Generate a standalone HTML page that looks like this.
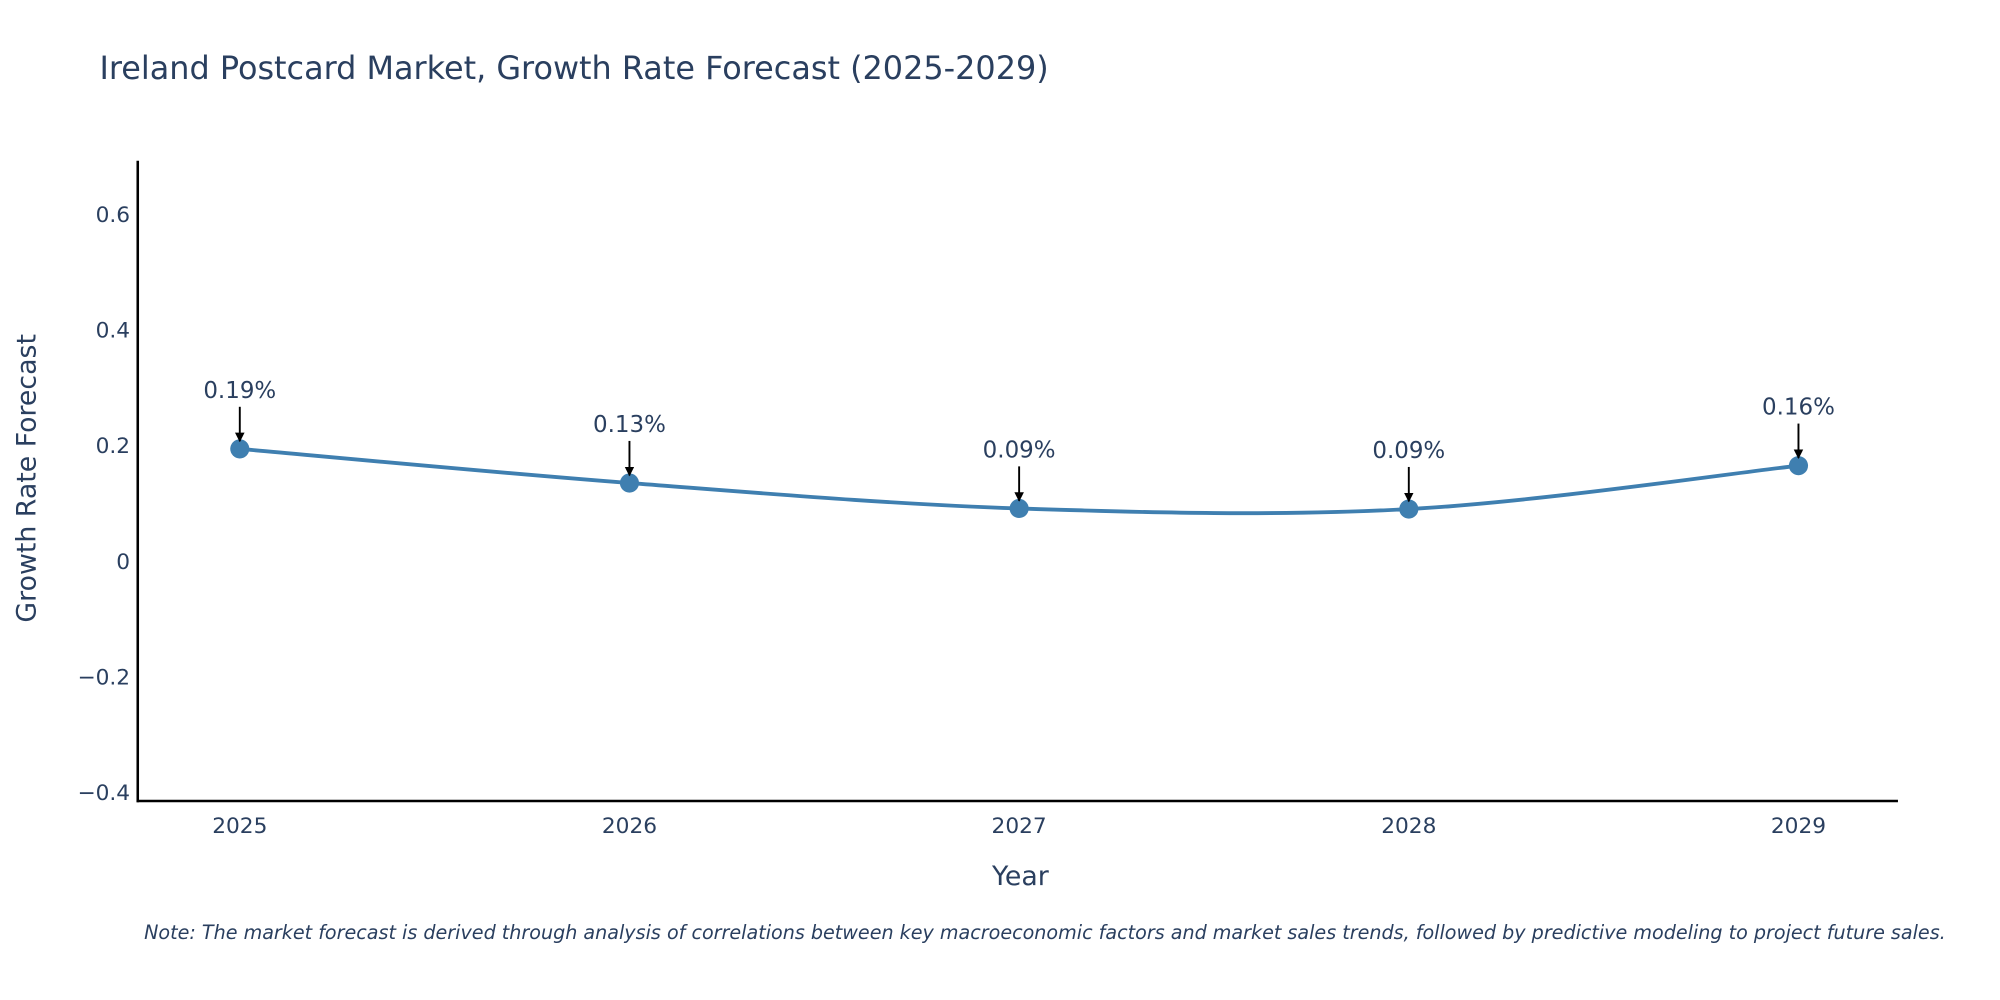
<!DOCTYPE html>
<html><head><meta charset="utf-8"><style>
html,body{margin:0;padding:0;background:#fff;width:2000px;height:1000px;overflow:hidden}
svg text{font-family:"DejaVu Sans","Liberation Sans",sans-serif;fill:#2a3f5f}
</style></head><body>
<svg id="chart" width="2000" height="1000" viewBox="0 0 1568 784" xmlns="http://www.w3.org/2000/svg">
<defs><marker id="ah" viewBox="0 0 10 10" refX="9" refY="5" markerWidth="5" markerHeight="5" orient="auto"><path d="M0,0 L10,5 L0,10 z" fill="#000"/></marker></defs>
<text x="78" y="62" font-size="25">Ireland Postcard Market, Growth Rate Forecast (2025-2029)</text>
<g id="yticks"></g><g id="xticks"></g>
<line x1="108" y1="126" x2="108" y2="629" stroke="#000" stroke-width="2"/>
<line x1="107" y1="628" x2="1488" y2="628" stroke="#000" stroke-width="2"/>
<g id="series"></g>
<text x="800" y="694" font-size="21" text-anchor="middle">Year</text>
<text transform="translate(28,375) rotate(-90)" font-size="21" text-anchor="middle">Growth Rate Forecast</text>
<text x="113" y="736" font-size="15" font-style="italic">Note: The market forecast is derived through analysis of correlations between key macroeconomic factors and market sales trends, followed by predictive modeling to project future sales.</text>
</svg>
<script>
const years=[2025,2026,2027,2028,2029];
const values=[0.192,0.133,0.089,0.088,0.163];
const labels=["0.19%","0.13%","0.09%","0.09%","0.16%"];
const yTicks=[-0.4,-0.2,0,0.2,0.4,0.6];
const yTickLabels=["\u22120.4","\u22120.2","0","0.2","0.4","0.6"];
const NS="http://www.w3.org/2000/svg";
const xS=v=>188+(v-2025)*305.5;
const yS=v=>439-v*453.5;
function mk(tag,attrs,parent){const e=document.createElementNS(NS,tag);for(const k in attrs)e.setAttribute(k,attrs[k]);parent.appendChild(e);return e;}
const yt=document.getElementById('yticks');
yTicks.forEach((t,i)=>{const e=mk('text',{x:102,y:yS(t)+7,'font-size':17,'text-anchor':'end'},yt);


e.textContent=yTickLabels[i];});
const xt=document.getElementById('xticks');
years.forEach(y=>{const e=mk('text',{x:xS(y),y:653,'font-size':17,'text-anchor':'middle'},xt);


e.textContent=y;});
const g=document.getElementById('series');
const pts=years.map((y,i)=>[xS(y),yS(values[i])]);
let d='M'+pts[0][0]+','+pts[0][1];
for(let i=0;i<pts.length-1;i++){const p0=pts[Math.max(0,i-1)],p1=pts[i],p2=pts[i+1],p3=pts[Math.min(pts.length-1,i+2)];
const c1=[p1[0]+(p2[0]-p0[0])/6,p1[1]+(p2[1]-p0[1])/6],c2=[p2[0]-(p3[0]-p1[0])/6,p2[1]-(p3[1]-p1[1])/6];
d+=` C${c1[0]},${c1[1]} ${c2[0]},${c2[1]} ${p2[0]},${p2[1]}`;}
const line=mk('path',{d:d,fill:'none',stroke:'#3f7fb0','stroke-width':3},g);


pts.forEach((p,i)=>{const c=mk('circle',{cx:p[0],cy:p[1],r:7.5,fill:'#3f7fb0'},g);


const a=mk('line',{x1:p[0],y1:p[1]-33,x2:p[0],y2:p[1]-6,stroke:'#000','stroke-width':1.5,'marker-end':'url(#ah)'},g);


const t=mk('text',{x:p[0],y:p[1]-40,'font-size':18,'text-anchor':'middle'},g);


t.textContent=labels[i];});
</script>
</body></html>
